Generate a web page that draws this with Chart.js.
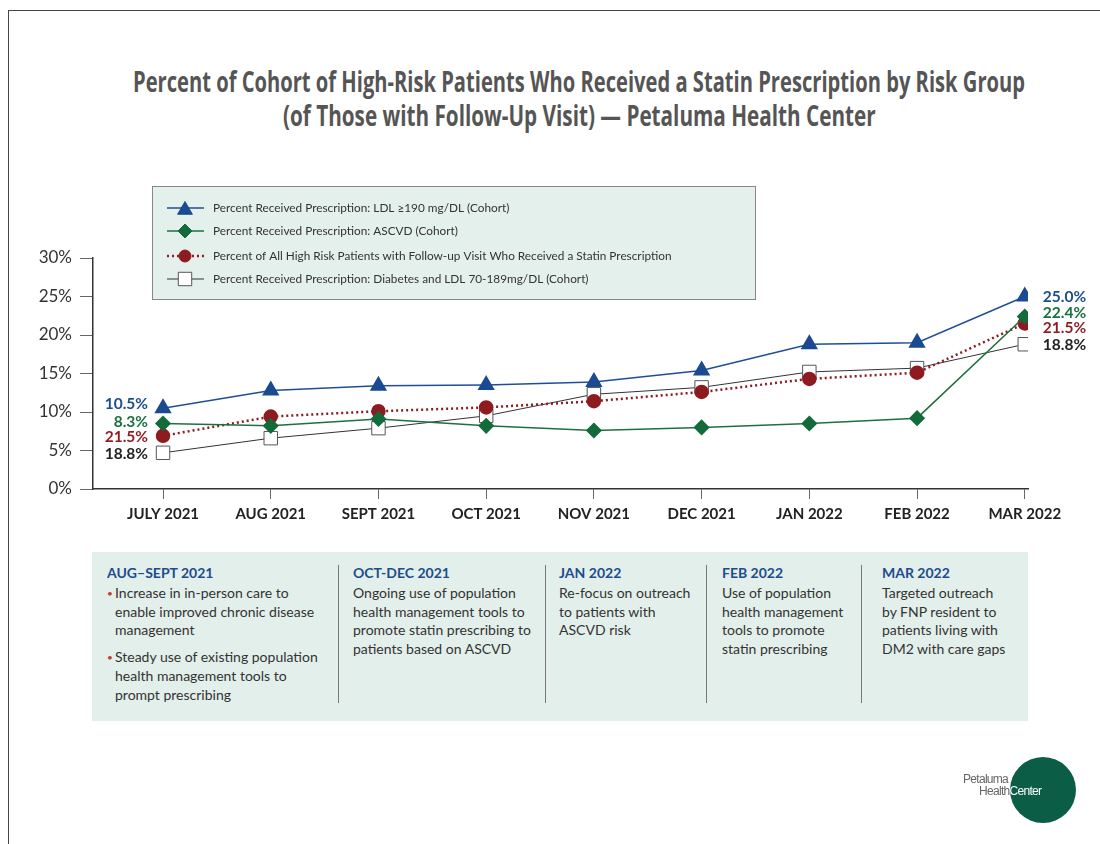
<!DOCTYPE html>
<html>
<head>
<meta charset="utf-8">
<script src="https://cdn.jsdelivr.net/npm/chart.js@4.4.1/dist/chart.umd.min.js"></script>
<style>
  html, body { margin: 0; padding: 0; background: #fff; }
  #wrap { position: relative; width: 1100px; height: 844px; overflow: hidden; font-family: Lato, "Open Sans", sans-serif; }
  #frame { position: absolute; left: 8px; top: 10px; width: 1200px; height: 900px; border-left: 1.5px solid #444; border-top: 1.5px solid #444; }
  .tl { position: absolute; white-space: nowrap; transform-origin: 0 0; font-family: "Open Sans", Roboto, sans-serif; font-weight: bold; font-size: 29px; line-height: 34px; color: #555; }
  #chart { position: absolute; left: 0; top: 0; }
  #panel { position: absolute; left: 92px; top: 552px; width: 936px; height: 169px; background: #e3efea; }
  .col { position: absolute; top: 12px; font-size: 14px; line-height: 18.7px; color: #333; }
  .col h4 { margin: 0 0 2px 0; font-size: 14px; font-weight: bold; color: #1c4d8c; line-height: 18px; }
  .col p { margin: 0; }
  .col .b { position: relative; padding-left: 8px; }
  .col .b::before { content: "•"; position: absolute; left: 0; top: 0; color: #c0392b; font-size: 10px; }
  .col .b + .b { margin-top: 8px; }
  .sep { position: absolute; top: 13px; width: 1px; height: 138px; background: #777; }
  #logo { position: absolute; left: 1010px; top: 757px; width: 66px; height: 66px; border-radius: 50%; background: #0b5e45; }
  .lt { position: absolute; font-family: "Liberation Sans", Arial, sans-serif; font-size: 12px; letter-spacing: -0.7px; line-height: 12px; }
</style>
</head>
<body>
<div id="wrap">
  <div id="frame"></div>
  <div class="tl" data-w="892" data-c="579" style="top:64px">Percent of Cohort of High-Risk Patients Who Received a Statin Prescription by Risk Group</div>
  <div class="tl" data-w="593" data-c="579" style="top:98px">(of Those with Follow-Up Visit) — Petaluma Health Center</div>
  <canvas id="chart" width="1100" height="844"></canvas>
  <div id="panel">
    <div class="col" style="left:15px;width:225px">
      <h4>AUG–SEPT 2021</h4>
      <p class="b">Increase in in-person care to enable improved chronic disease management</p>
      <p class="b">Steady use of existing population health management tools to prompt prescribing</p>
    </div>
    <div class="sep" style="left:246px"></div>
    <div class="col" style="left:261px;width:185px">
      <h4>OCT-DEC 2021</h4>
      <p>Ongoing use of population health management tools to promote statin prescribing to patients based on ASCVD</p>
    </div>
    <div class="sep" style="left:453px"></div>
    <div class="col" style="left:467px;width:140px">
      <h4>JAN 2022</h4>
      <p>Re-focus on outreach to patients with ASCVD risk</p>
    </div>
    <div class="sep" style="left:614px"></div>
    <div class="col" style="left:630px;width:130px">
      <h4>FEB 2022</h4>
      <p>Use of population health management tools to promote statin prescribing</p>
    </div>
    <div class="sep" style="left:769px"></div>
    <div class="col" style="left:790px;width:140px">
      <h4>MAR 2022</h4>
      <p>Targeted outreach<br>by FNP resident to<br>patients living with<br>DM2 with care gaps</p>
    </div>
  </div>
  <div id="logo"></div>
  <div class="lt" style="left:963px;top:773px;color:#666">Petaluma</div>
  <div class="lt" style="left:979px;top:785px;color:#666">Health<span style="color:#fff">Center</span></div>
</div>
<script>
const months = ['JULY 2021', 'AUG 2021', 'SEPT 2021', 'OCT 2021', 'NOV 2021', 'DEC 2021', 'JAN 2022', 'FEB 2022', 'MAR 2022'];
const ldl190 = [10.5, 12.8, 13.4, 13.5, 13.9, 15.4, 18.8, 19.0, 25.0];
const ascvd = [8.5, 8.2, 9.1, 8.2, 7.6, 8.0, 8.5, 9.2, 22.4];
const allHighRisk = [6.9, 9.4, 10.1, 10.6, 11.4, 12.6, 14.3, 15.1, 21.5];
const diabetes = [4.7, 6.6, 7.9, 9.5, 12.3, 13.2, 15.2, 15.7, 18.8];
const seriesNames = [
  'Percent Received Prescription: LDL ≥190 mg/DL (Cohort)',
  'Percent Received Prescription: ASCVD (Cohort)',
  'Percent of All High Risk Patients with Follow-up Visit Who Received a Statin Prescription',
  'Percent Received Prescription: Diabetes and LDL 70-189mg/DL (Cohort)'
];
const startLabels = ['10.5%', '8.3%', '21.5%', '18.8%'];
const endLabels = ['25.0%', '22.4%', '21.5%', '18.8%'];
const yTicks = [0, 5, 10, 15, 20, 25, 30];

// squeeze title lines to the condensed width of the original
document.querySelectorAll('.tl').forEach(el => {
  const target = +el.dataset.w, c = +el.dataset.c;
  el.style.left = (c - target / 2) + 'px';
  el.style.transform = 'scaleX(' + (target / el.offsetWidth) + ')';
});

const toPoints = arr => arr.map((v, i) => ({ x: i, y: v }));
const FONT = 'Lato, "Open Sans", sans-serif';

// value labels at the ends of each line
const endLabelPlugin = {
  id: 'endLabels',
  afterDatasetsDraw(chart) {
    const ctx = chart.ctx;
    const leftDy = [-4, -2, 1, 1];
    const rightDy = [0, -4, 5, 1];
    ctx.save();
    ctx.font = 'bold 15.5px ' + FONT;
    ctx.textBaseline = 'middle';
    chart.data.datasets.forEach((ds, i) => {
      const pts = chart.getDatasetMeta(i).data;
      const first = pts[0], last = pts[pts.length - 1];
      ctx.fillStyle = ds.labelColor;
      ctx.textAlign = 'right';
      ctx.fillText(startLabels[i], first.x - 15, first.y + leftDy[i]);
      ctx.textAlign = 'left';
      ctx.fillText(endLabels[i], last.x + 18, last.y + rightDy[i]);
    });
    ctx.restore();
  }
};

function marker(ctx, style, x, y, r, fill, stroke) {
  ctx.beginPath();
  if (style === 'triangle') {
    ctx.moveTo(x, y - r);
    ctx.lineTo(x + r * 0.866, y + r / 2);
    ctx.lineTo(x - r * 0.866, y + r / 2);
  } else if (style === 'rectRot') {
    ctx.moveTo(x, y - r); ctx.lineTo(x + r, y); ctx.lineTo(x, y + r); ctx.lineTo(x - r, y);
  } else if (style === 'circle') {
    ctx.arc(x, y, r, 0, Math.PI * 2);
  } else {
    const s = r * Math.SQRT1_2;
    ctx.rect(x - s, y - s, 2 * s, 2 * s);
  }
  ctx.closePath();
  ctx.fillStyle = fill;
  ctx.fill();
  ctx.lineWidth = 1;
  ctx.strokeStyle = stroke;
  ctx.stroke();
}

// boxed legend drawn like the original
const boxLegendPlugin = {
  id: 'boxLegend',
  afterDraw(chart) {
    const ctx = chart.ctx;
    ctx.save();
    ctx.fillStyle = '#e4f0ec';
    ctx.fillRect(152, 186, 603, 113);
    ctx.strokeStyle = '#888';
    ctx.lineWidth = 1;
    ctx.strokeRect(152.5, 186.5, 603, 113);
    const rows = [208, 231, 256, 279];
    chart.data.datasets.forEach((ds, i) => {
      const y = rows[i];
      ctx.beginPath();
      ctx.setLineDash(ds.borderDash || []);
      ctx.strokeStyle = ds.borderColor;
      ctx.lineWidth = ds.borderWidth;
      ctx.moveTo(167, y);
      ctx.lineTo(204, y);
      ctx.stroke();
      ctx.setLineDash([]);
      marker(ctx, ds.pointStyle, 185, y + (ds.pointStyle === 'triangle' ? 2 : 0), ds.pointRadius, ds.pointBackgroundColor, ds.pointBorderColor);
      ctx.fillStyle = '#333';
      ctx.font = '11.8px ' + FONT;
      ctx.textAlign = 'left';
      ctx.textBaseline = 'middle';
      ctx.fillText(seriesNames[i], 213, y);
    });
    ctx.restore();
  }
};

new Chart(document.getElementById('chart'), {
  type: 'line',
  data: {
    datasets: [
      { label: seriesNames[0], data: toPoints(ldl190), borderColor: '#1f4e96', borderWidth: 1.5,
        pointStyle: 'triangle', pointRadius: 8.5, pointBackgroundColor: '#1a4a91', pointBorderColor: '#1a4a91', labelColor: '#1c4d8c' },
      { label: seriesNames[1], data: toPoints(ascvd), borderColor: '#1d7040', borderWidth: 1.5,
        pointStyle: 'rectRot', pointRadius: 7, pointBackgroundColor: '#136b3a', pointBorderColor: '#136b3a', labelColor: '#1a7040' },
      { label: seriesNames[2], data: toPoints(allHighRisk), borderColor: '#8e1b1f', borderWidth: 2.5, borderDash: [2, 3],
        pointStyle: 'circle', pointRadius: 6, pointBackgroundColor: '#8e1b1f', pointBorderColor: '#8e1b1f', labelColor: '#8e1b1f' },
      { label: seriesNames[3], data: toPoints(diabetes), borderColor: '#333', borderWidth: 1,
        pointStyle: 'rect', pointRadius: 9.5, pointBackgroundColor: '#fff', pointBorderColor: '#555', labelColor: '#222' }
    ]
  },
  options: {
    responsive: false,
    animation: false,
    devicePixelRatio: 1,
    layout: { padding: { left: 0, top: 258, right: 72, bottom: 310 } },
    plugins: { legend: { display: false }, tooltip: { enabled: false } },
    elements: { line: { tension: 0 }, point: { borderWidth: 1 } },
    scales: {
      x: {
        type: 'linear',
        min: -0.65,
        max: 8.03,
        afterBuildTicks: s => { s.ticks = months.map((m, i) => ({ value: i })); },
        afterFit: s => { s.height = 45; },
        ticks: { autoSkip: false, maxRotation: 0, padding: 6, color: '#222',
          font: { family: FONT, size: 15, weight: 'bold' },
          callback: v => months[v] },
        grid: { drawOnChartArea: false, drawTicks: true, tickLength: 10, color: '#666' },
        border: { color: '#333', width: 1.5 }
      },
      y: {
        min: 0,
        max: 30,
        afterBuildTicks: s => { s.ticks = yTicks.map(v => ({ value: v })); },
        afterFit: s => { s.width = 93; },
        ticks: { padding: 8, color: '#333', font: { family: FONT, size: 17 }, callback: v => v + '%' },
        grid: { drawOnChartArea: false, drawTicks: true, tickLength: 13, color: '#666' },
        border: { color: '#333', width: 1.5 }
      }
    }
  },
  plugins: [endLabelPlugin, boxLegendPlugin]
});
</script>
</body>
</html>
